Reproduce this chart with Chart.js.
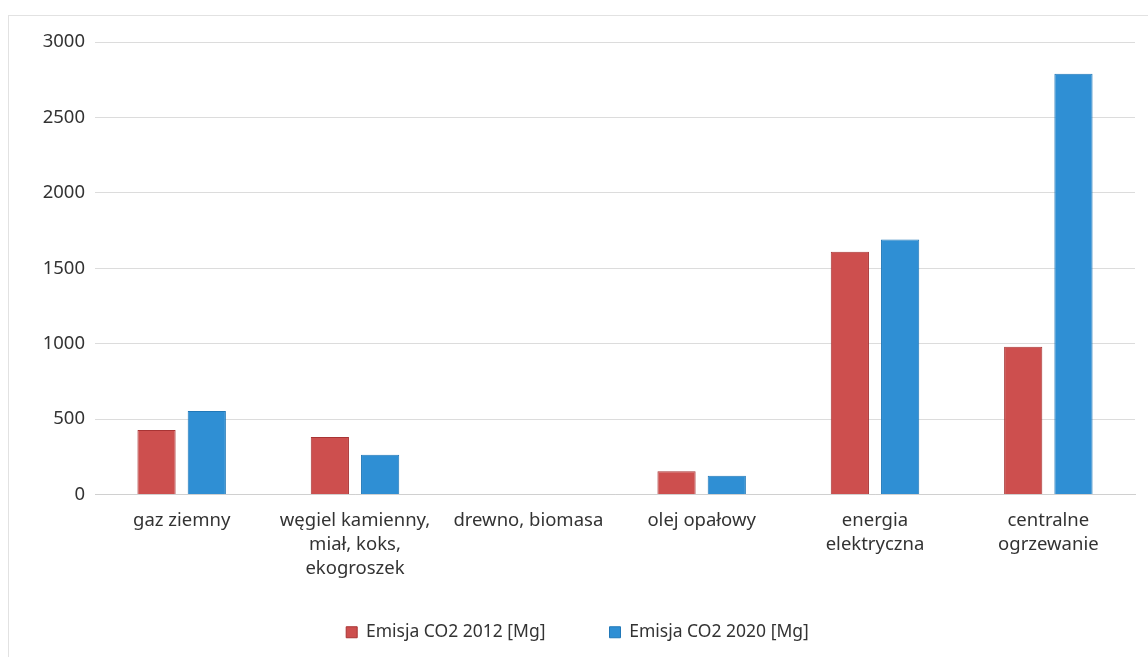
<!DOCTYPE html>
<html>
<head>
<meta charset="utf-8">
<script src="https://cdn.jsdelivr.net/npm/chart.js@4.4.0/dist/chart.umd.min.js"></script>
<style>
  html, body { margin: 0; padding: 0; background: #fff; width: 1148px; height: 657px; overflow: hidden; }
  #frame { position: absolute; left: 8px; top: 15px; width: 1160px; height: 680px; border: 1px solid #e2e2e2; box-sizing: border-box; }
  #wrap { position: absolute; left: 0; top: 0; width: 1148px; height: 657px; }
</style>
</head>
<body>
<div id="frame"></div>
<div id="wrap"><canvas id="c"></canvas></div>
<script>
const categories = [
  'gaz ziemny',
  ['węgiel kamienny,', 'miał, koks,', 'ekogroszek'],
  'drewno, biomasa',
  'olej opałowy',
  ['energia', 'elektryczna'],
  ['centralne', 'ogrzewanie']
];
const emisja2012 = [428, 381, 0, 154, 1610, 980];
const emisja2020 = [553, 263, 0, 125, 1690, 2790];
const yTicks = [0, 500, 1000, 1500, 2000, 2500, 3000];

const FONT = 'Noto Sans';
new Chart(document.getElementById('c'), {
  type: 'bar',
  data: {
    labels: categories,
    datasets: [
      { label: 'Emisja CO2 2012 [Mg]', data: emisja2012, backgroundColor: '#cd4f4e', borderColor: '#a83434', borderWidth: 1, categoryPercentage: 0.58, barPercentage: 0.76 },
      { label: 'Emisja CO2 2020 [Mg]', data: emisja2020, backgroundColor: '#2f8fd4', borderColor: '#2178b8', borderWidth: 1, categoryPercentage: 0.58, barPercentage: 0.76 }
    ]
  },
  options: {
    responsive: true,
    maintainAspectRatio: false,
    animation: false,
    layout: { padding: { left: 20, right: 13, top: 42, bottom: 6 } },
    plugins: {
      legend: {
        position: 'bottom',
        labels: { font: { family: FONT, size: 17.5 }, color: '#333', boxWidth: 11, boxHeight: 11, padding: 64 }
      },
      tooltip: { enabled: false }
    },
    scales: {
      x: {
        afterFit: (s) => { s.height = 65; s._computeLabelArea = () => undefined; },
        grid: { display: false, drawTicks: false },
        border: { display: true, color: '#d0d0d0' },
        ticks: { font: { family: FONT, size: 18.5, lineHeight: 1.3 }, color: '#333', padding: 14, maxRotation: 0, autoSkip: false }
      },
      y: {
        min: 0, max: 3000,
        afterBuildTicks: (s) => { s.ticks = yTicks.map(v => ({ value: v })); },
        afterFit: (s) => { s.width = 75; },
        grid: { color: '#dcdcdc', drawTicks: false },
        border: { display: false },
        ticks: { font: { family: FONT, size: 18.5 }, color: '#333', padding: 10, callback: (v) => String(v) }
      }
    }
  }
});
</script>
</body>
</html>
